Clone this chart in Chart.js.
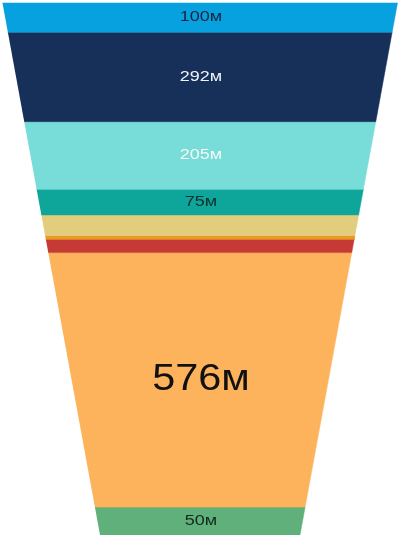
<!DOCTYPE html>
<html>
<head>
<meta charset="utf-8">
<script src="https://cdn.jsdelivr.net/npm/chart.js@4/dist/chart.umd.min.js"></script>
<style>
  html, body { margin: 0; padding: 0; background: #fff; }
  #wrap { width: 398px; height: 535px; position: relative; }
</style>
</head>
<body>
<div id="wrap"><canvas id="chart"></canvas></div>
<script>
// funnel stages, top to bottom
const stageLabels = ["100м", "292м", "205м", "75м", "", "", "", "576м", "50м"];
const stageValues = [100, 292, 205, 75, null, null, null, 576, 50];
// how tall each stage is in the funnel
const stageSizes = [29.3, 89.4, 67.6, 25.7, 20.7, 3.6, 13.4, 254.6, 27.9];
const stageColors = ["#07a1e0", "#17305a", "#78ddd8", "#0ea69b", "#e2cd7e", "#e99b1d", "#c53a34", "#fdb35b", "#5fb07b"];
const textColors = ["#14263a", "#f2f4f8", "#f4f8f8", "#0f2f2d", null, null, null, "#111111", "#142a1c"];
const fontSizes = [15, 15, 15, 15, 0, 0, 0, 37, 15];

const total = stageSizes.reduce((a, b) => a + b, 0);
const topHalf = 197.5;
const bottomHalf = 100;

function halfWidth(v) {
  return bottomHalf + (topHalf - bottomHalf) * v / total;
}

/*
Build one polygon per stage
*/
let upper = total;
const datasets = stageSizes.map((size, i) => {
  const lower = upper - size;
  const pts = [
    { x: -halfWidth(upper), y: upper },
    { x: halfWidth(upper), y: upper },
    { x: halfWidth(lower), y: lower },
    { x: -halfWidth(lower), y: lower }
  ];
  upper = lower;
  return {
    label: stageLabels[i],
    data: pts,
    showLine: true,
    fill: "shape",
    backgroundColor: stageColors[i],
    borderColor: stageColors[i],
    borderWidth: 0.5,
    pointRadius: 0,
    pointHoverRadius: 0,
    tension: 0
  };
});

const stageLabelPlugin = {
  id: "stageLabels",
  afterDatasetsDraw(chart) {
    const c = chart.ctx;
    const xs = chart.scales.x;
    const ys = chart.scales.y;
    let top = total;
    stageSizes.forEach((size, i) => {
      const mid = top - size / 2;
      top -= size;
      if (!stageLabels[i]) return;
      c.save();
      c.translate(xs.getPixelForValue(0) + 1, ys.getPixelForValue(mid) + (i === 7 ? 0 : -0.5));
      c.scale(fontSizes[i] > 20 ? 1.12 : 1.2, 1);
      c.font = fontSizes[i] + "px 'Liberation Sans', Arial, sans-serif";
      c.fillStyle = textColors[i];
      c.textAlign = "center";
      c.textBaseline = "middle";
      c.fillText(stageLabels[i], 0, 0);
      c.restore();
    });
  }
};

new Chart(document.getElementById("chart").getContext("2d"), {
  type: "scatter",
  data: { datasets: datasets },
  options: {
    responsive: true,
    maintainAspectRatio: false,
    animation: false,
    layout: { padding: 0 },
    plugins: {
      legend: { display: false },
      tooltip: { enabled: false }
    },
    scales: {
      x: { type: "linear", min: -200, max: 198, display: false },
      y: { type: "linear", min: 0, max: total + 3, display: false }
    }
  },
  plugins: [stageLabelPlugin]
});
</script>
</body>
</html>
